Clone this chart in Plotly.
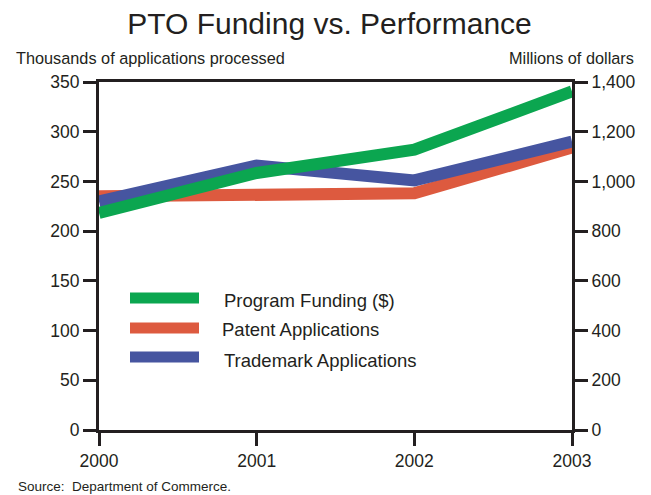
import plotly.graph_objects as go

YEARS = [2000, 2001, 2002, 2003]
FUNDING_MILLIONS = [873, 1034, 1128, 1362]
PATENT_THOUSANDS = [235, 236, 238, 284]
TRADEMARK_THOUSANDS = [230, 266, 251, 290]

LEFT_TICKS = [0, 50, 100, 150, 200, 250, 300, 350]
RIGHT_TICKS = [0, 200, 400, 600, 800, 1000, 1200, 1400]
RIGHT_TICK_TEXT = ["0", "200", "400", "600", "800", "1,000", "1,200", "1,400"]

GREEN = "#0BA650"
RED = "#DD5A3F"
BLUE = "#4655A0"
INK = "#231F20"
FONT = "Liberation Sans, Arial, sans-serif"
LINE_W = 12

# page body adds an 8px margin, so the figure is drawn 8px smaller
W, H = 643, 487
L, R, T, B = 91, 79, 74, 65
PW, PH = W - L - R, H - T - B


def px(x):  # reference pixel x -> paper x
    return (x - 8 - L) / PW


def py(y):  # reference pixel y -> paper y
    return (H - B - (y - 8)) / PH


fig = go.Figure()
fig.add_trace(go.Scatter(x=YEARS, y=FUNDING_MILLIONS, yaxis="y2", mode="lines",
                         name="Program Funding ($)", line=dict(color=GREEN, width=LINE_W)))
fig.add_trace(go.Scatter(x=YEARS, y=PATENT_THOUSANDS, mode="lines",
                         name="Patent Applications", line=dict(color=RED, width=LINE_W)))
fig.add_trace(go.Scatter(x=YEARS, y=TRADEMARK_THOUSANDS, mode="lines",
                         name="Trademark Applications", line=dict(color=BLUE, width=LINE_W)))

axis_common = dict(showgrid=False, zeroline=False, showline=True, linecolor=INK, linewidth=3,
                   ticks="outside", ticklen=13, tickwidth=3, tickcolor=INK,
                   tickfont=dict(size=17.5, color=INK, family=FONT))

fig.update_layout(
    width=W, height=H,
    margin=dict(l=L, r=R, t=T, b=B),
    paper_bgcolor="white", plot_bgcolor="white",
    showlegend=False,
    title=dict(text="PTO Funding vs. Performance", x=0.5, xanchor="center",
               y=1 - 15 / H, yanchor="middle",
               font=dict(size=30, color=INK, family=FONT)),
    xaxis=dict(range=[2000, 2003], tickvals=YEARS, mirror=True, **axis_common),
    yaxis=dict(range=[0, 350], tickvals=LEFT_TICKS, **axis_common),
    yaxis2=dict(range=[0, 1400], tickvals=RIGHT_TICKS, ticktext=RIGHT_TICK_TEXT,
                overlaying="y", side="right", **axis_common),
)

# axis titles and source note
fig.add_annotation(text="Thousands of applications processed", xref="paper", yref="paper",
                   x=px(14), y=py(58), xanchor="left", yanchor="middle",
                   showarrow=False, font=dict(size=16.3, color=INK, family=FONT))
fig.add_annotation(text="Millions of dollars", xref="paper", yref="paper",
                   x=px(636), y=py(58), xanchor="right", yanchor="middle",
                   showarrow=False, font=dict(size=16.3, color=INK, family=FONT))
fig.add_annotation(text="Source:  Department of Commerce.", xref="paper", yref="paper",
                   x=px(16), y=py(486), xanchor="left", yanchor="middle",
                   showarrow=False, font=dict(size=13.5, color=INK, family=FONT))

# legend drawn as long line samples inside the plot
legend_items = [("Program Funding ($)", GREEN, 298, 300, 222),
                ("Patent Applications", RED, 328, 329, 220),
                ("Trademark Applications", BLUE, 357, 360, 222)]
for label, color, yline, ytext, xtext in legend_items:
    fig.add_shape(type="line", xref="paper", yref="paper",
                  x0=px(130), x1=px(199), y0=py(yline), y1=py(yline),
                  line=dict(color=color, width=11))
    fig.add_annotation(text=label, xref="paper", yref="paper",
                       x=px(xtext), y=py(ytext), xanchor="left", yanchor="middle",
                       showarrow=False, font=dict(size=18.5, color=INK, family=FONT))

fig.write_html("out.html")
